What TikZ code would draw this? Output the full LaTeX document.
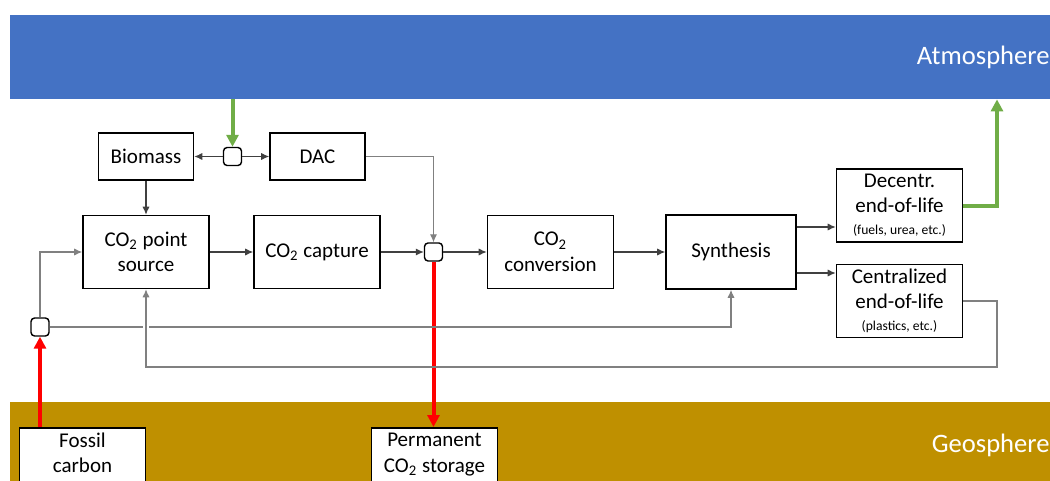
\documentclass[tikz,border=0pt]{standalone}
\usepackage{fontspec}
\setmainfont{Carlito}
\usetikzlibrary{arrows.meta,positioning}
\definecolor{atmoblue}{HTML}{4472C4}
\definecolor{geogold}{HTML}{BF9000}
\definecolor{flowgreen}{HTML}{70AD47}
\definecolor{flowred}{HTML}{FF0000}

\begin{document}
\begin{tikzpicture}[
  x=0.5pt, y=-0.5pt,
  font=\fontsize{10.5}{12.8}\selectfont,
  unit/.style={rectangle, draw=black, line width=0.8pt, fill=white,
               minimum width=63pt, minimum height=36.5pt, align=center, inner sep=1pt},
  smallunit/.style={unit, minimum width=47.5pt, minimum height=23.5pt},
  sink/.style={unit, anchor=north, minimum height=45pt, text depth=20pt},
  junc/.style={rectangle, rounded corners=1.8pt, draw=black, line width=0.7pt,
               fill=white, minimum size=9pt, inner sep=0pt},
  band/.style={rectangle, draw=none, minimum width=520pt, inner sep=0pt},
  bandtext/.style={anchor=east, text=white, inner sep=0pt, font=\fontsize{13.3}{15}\selectfont},
  ar/.style={-{Latex[length=4pt,width=3.6pt]}, line width=0.55pt, draw=black!75},
  ln/.style={ar, draw=black!50},
  gap/.style={white, line width=3pt},
  co2up/.style={-{Triangle[length=6pt,width=6pt]}, line width=2pt, draw=flowgreen},
  co2down/.style={-{Triangle[length=6pt,width=6pt]}, line width=2pt, draw=flowred}
]
\useasboundingbox (0,0) rectangle (1050,481);
\clip (0,0) rectangle (1050,481);

% reservoirs
\node[band, fill=atmoblue, minimum height=42pt] (atmo) at (530,57) {};
\node[bandtext] at (1050,57) {Atmosphere};
\node[band, fill=geogold, minimum height=45pt] (geo) at (530,447) {};
\node[bandtext] at (1050,445) {Geosphere};

% process chain
\node[smallunit] (bio) at (146,156.5) {Biomass};
\node[smallunit] (dac) at (317.5,156.5) {DAC};
\node[junc] (jatm) at (232.5,156.5) {};
\node[unit] (src) at (146,252) {CO\textsubscript{2} point\\source};
\node[unit] (cap) at (317,252) {CO\textsubscript{2} capture};
\node[junc] (jmix) at (433.5,252) {};
\node[unit] (conv) at (550.5,252) {CO\textsubscript{2}\\conversion};
\node[unit, minimum width=65pt, minimum height=37pt] (syn) at (731,252) {Synthesis};
\node[unit] (dec) at (899.5,205.5)
  {Decentr.\\[-0.6pt]end-of-life\\[-1.5pt]{\fontsize{6.8}{8}\selectfont (fuels, urea, etc.)}};
\node[unit] (cen) at (899.5,301)
  {Centralized\\[-0.6pt]end-of-life\\[-1.5pt]{\fontsize{6.8}{8}\selectfont (plastics, etc.)}};
\node[junc] (jfos) at (40,327) {};

% geosphere boxes
\node[sink] (fos) at (82.5,427) {Fossil\\carbon};
\node[sink] (sto) at (434.5,427) {Permanent\\CO\textsubscript{2} storage};

\coordinate (tap1) at (0,227);
\coordinate (tap2) at (0,273);
\coordinate (vent) at (997,0);
\coordinate (ret) at (997,367);

% connectors
\draw[co2up] (atmo.south -| jatm) -- (jatm);
\draw[ar] (jatm) -- (bio);
\draw[ar] (jatm) -- (dac);
\draw[ar] (bio) -- (src);
\draw[ar] (src) -- (cap);
\draw[ar] (cap) -- (jmix);
\draw[ar] (jmix) -- (conv);
\draw[ar] (conv) -- (syn);
\draw[ln] (dac) -| (jmix);
\draw[co2down] (jmix) -- (jmix |- sto.north);
\draw[ar] (syn.east |- tap1) -- (dec.west |- tap1);
\draw[ar] (syn.east |- tap2) -- (cen.west |- tap2);
\draw[co2up] (dec.east) -| (vent |- atmo.south);

\draw[co2down] (fos.north -| jfos) -- (jfos);
\draw[ln] (jfos) |- (src.west);
\draw[ln] (jfos) -| (syn.south);
\draw[gap] ([yshift=4pt]src.south |- jfos) -- ([yshift=-4pt]src.south |- jfos);
\draw[ln] (cen.east) -| (ret) -| (src.south);
\end{tikzpicture}
\end{document}
